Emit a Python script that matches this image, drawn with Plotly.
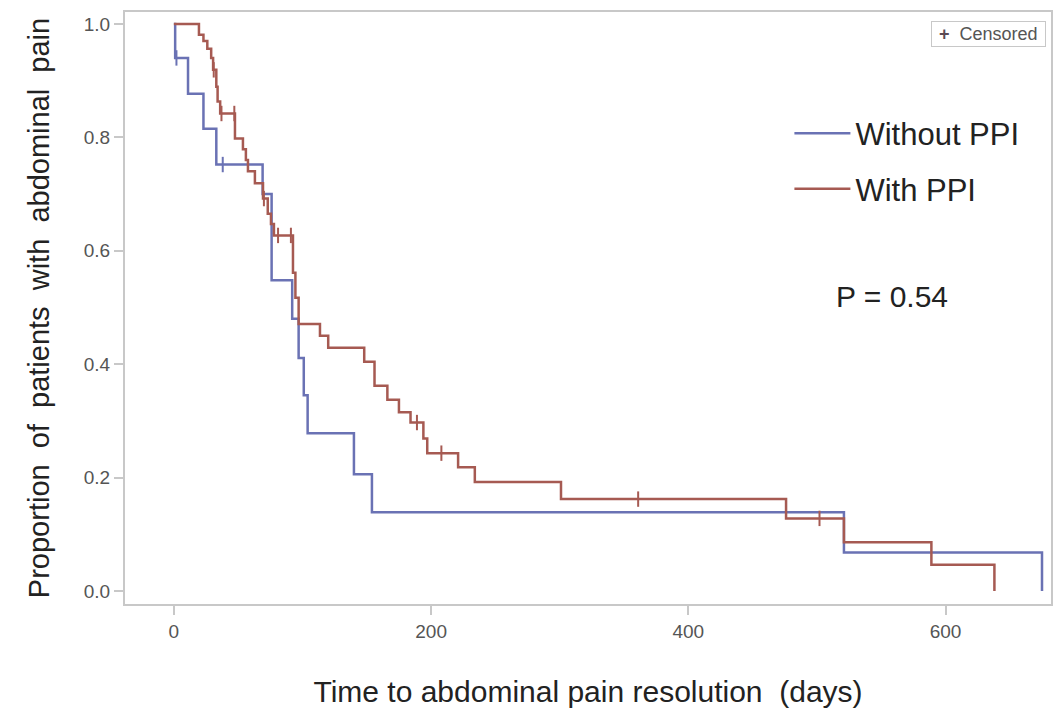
import plotly.graph_objects as go

# Without PPI: step times (days) and survival after each step
blue_t = [0, 1, 11, 23, 33, 69, 76, 92, 97, 101, 104, 140, 154, 521, 675]
blue_s = [1.0, 0.94, 0.877, 0.815, 0.752, 0.70, 0.548, 0.48, 0.411, 0.345, 0.278, 0.206, 0.139, 0.068, 0.0]
blue_cens_t = [2, 38]
blue_cens_s = [0.94, 0.752]

# With PPI
red_t = [0, 19.5, 23, 26, 29, 30.5, 33, 34, 36, 47.5, 53.7, 56, 57.6, 63, 69.3, 73, 75.5, 77.8,
         92.6, 94.5, 97, 113.6, 120, 148, 156, 166, 175, 184, 194, 197, 221, 234, 301, 476, 521, 589, 638]
red_s = [1.0, 0.981, 0.970, 0.956, 0.940, 0.919, 0.889, 0.863, 0.842, 0.798, 0.779, 0.760, 0.740, 0.719,
         0.692, 0.665, 0.647, 0.627, 0.561, 0.517, 0.471, 0.45, 0.429, 0.404, 0.362, 0.337, 0.315, 0.297,
         0.269, 0.243, 0.218, 0.192, 0.162, 0.128, 0.086, 0.046, 0.0]
red_cens_t = [31, 37, 47, 70, 81, 91, 189, 208, 361, 502]
red_cens_s = [0.919, 0.842, 0.842, 0.692, 0.627, 0.627, 0.297, 0.243, 0.162, 0.128]

x_ticks = [0, 200, 400, 600]
y_ticks = [0.0, 0.2, 0.4, 0.6, 0.8, 1.0]

BLUE = "#6A72B4"
RED = "#A65A52"
FONT = "Liberation Sans, Arial"

fig = go.Figure()
fig.add_trace(go.Scatter(x=blue_t, y=blue_s, mode="lines", line=dict(color=BLUE, width=2.5, shape="hv"),
                         name="Without PPI", legendgroup="a"))
fig.add_trace(go.Scatter(x=red_t, y=red_s, mode="lines", line=dict(color=RED, width=2.5, shape="hv"),
                         name="With PPI", legendgroup="b"))
fig.add_trace(go.Scatter(x=blue_cens_t, y=blue_cens_s, mode="markers",
                         marker=dict(symbol="line-ns-open", size=11, color=BLUE, line=dict(color=BLUE, width=2)),
                         showlegend=False))
fig.add_trace(go.Scatter(x=red_cens_t, y=red_cens_s, mode="markers",
                         marker=dict(symbol="line-ns-open", size=11, color=RED, line=dict(color=RED, width=2)),
                         showlegend=False))

fig.add_annotation(x=0.828, y=0.52, xref="paper", yref="paper", text="P = 0.54", showarrow=False,
                   font=dict(size=30, color="#222222", family=FONT), xanchor="center", yanchor="middle")

# "Censored" key box in the upper right corner
fig.add_annotation(x=0.995, y=0.985, xref="paper", yref="paper",
                   text="&nbsp;<span style='color:#5a4a55'><b>+</b></span>&nbsp; Censored&nbsp;", showarrow=False,
                   font=dict(size=18, color="#555555", family=FONT), xanchor="right", yanchor="top",
                   bordercolor="#C8C8C8", borderwidth=1, borderpad=2, bgcolor="white")

axis_common = dict(showline=True, mirror=True, linecolor="#C8C8C8", linewidth=2, showgrid=False,
                   zeroline=False, ticks="outside", tickcolor="#C8C8C8", ticklen=9, tickwidth=1.5,
                   tickfont=dict(size=19, color="#555555", family=FONT))

# body has an 8px default margin, so the figure is sized/offset to compensate
fig.update_layout(
    width=1053, height=702,
    margin=dict(l=117, r=10, t=2, b=106),
    paper_bgcolor="white", plot_bgcolor="white",
    xaxis=dict(range=[-38, 682], tickvals=x_ticks, ticktext=[str(v) for v in x_ticks],
               title=dict(text="Time to abdominal pain resolution  (days)", standoff=40,
                          font=dict(size=30, color="#222222", family=FONT)),
               **axis_common),
    yaxis=dict(range=[-0.023, 1.021], tickvals=y_ticks, ticktext=[f"{v:.1f}" for v in y_ticks],
               title=dict(text="Proportion  of  patients  with  abdominal  pain", standoff=26,
                          font=dict(size=29, color="#222222", family=FONT)),
               **axis_common),
    legend=dict(x=0.7175, y=0.84, xanchor="left", yanchor="top", bgcolor="rgba(0,0,0,0)",
                font=dict(size=31, color="#222222", family=FONT),
                tracegroupgap=12, itemwidth=56),
)

fig.write_html("out.html")
